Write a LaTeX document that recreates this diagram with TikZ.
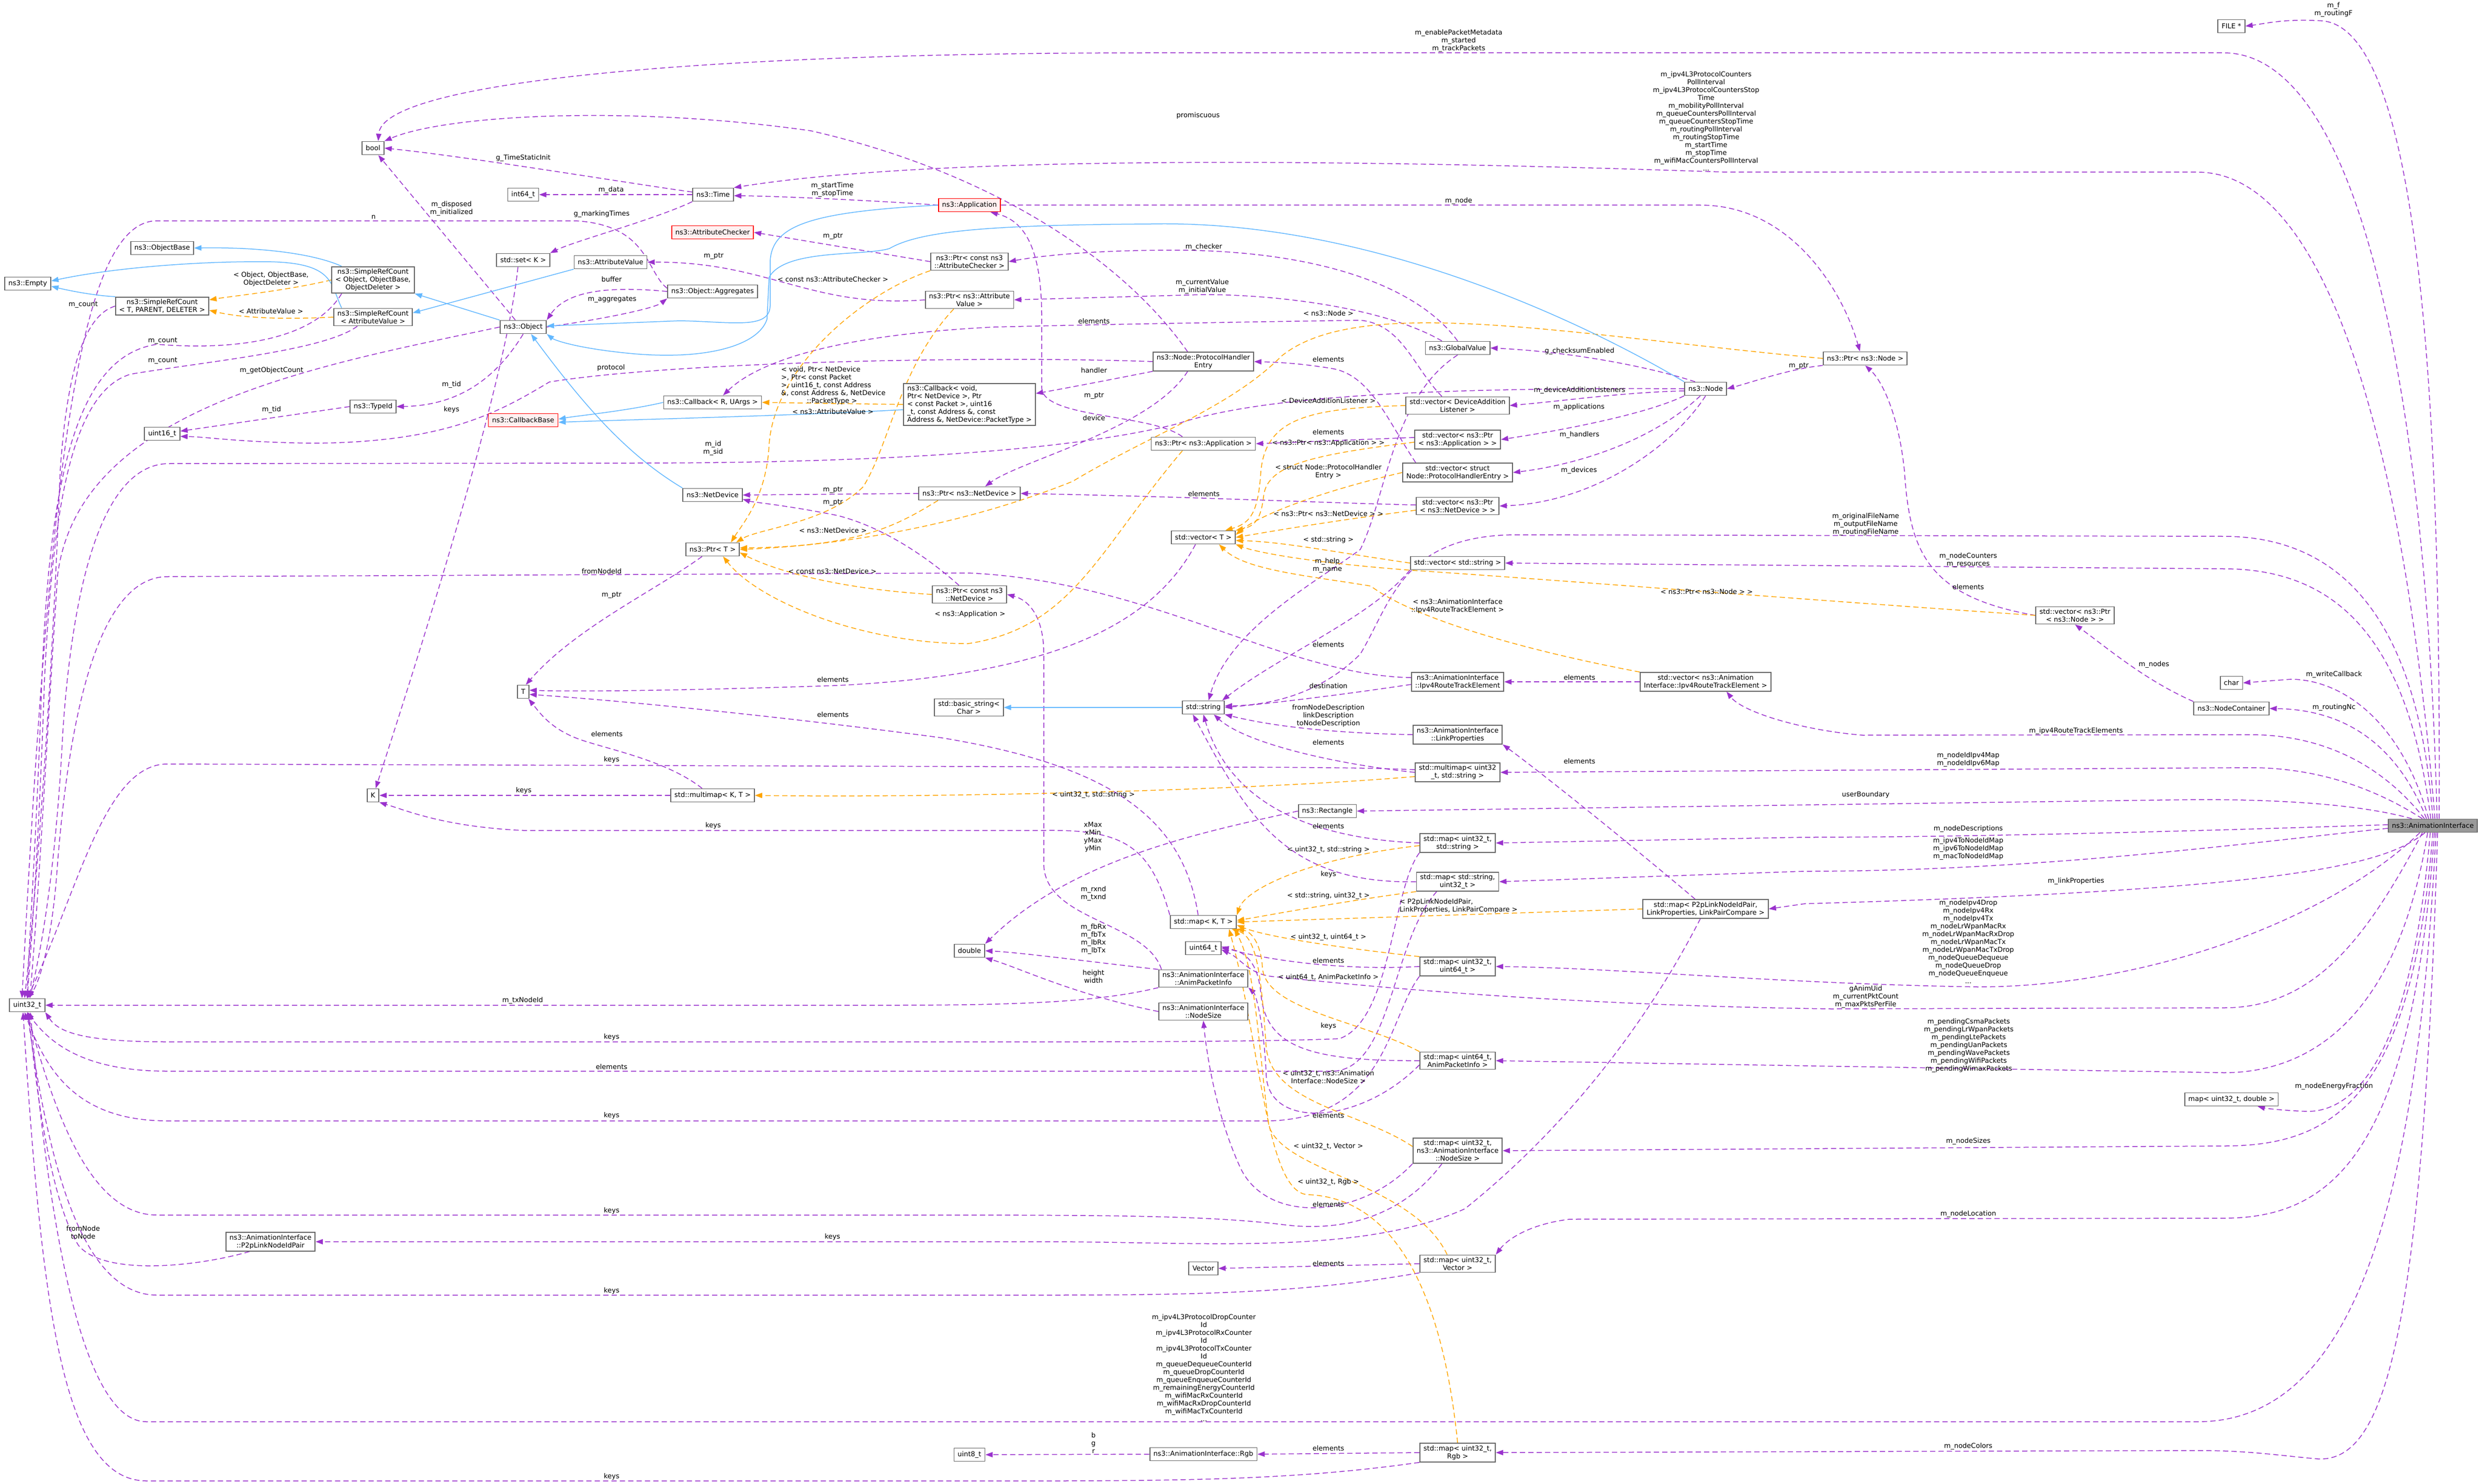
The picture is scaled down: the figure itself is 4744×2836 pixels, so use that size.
\documentclass[tikz,border=0pt]{standalone}
\usepackage{fontspec}
\setmainfont{DejaVu Sans}
\usetikzlibrary{arrows.meta}
\definecolor{usecol}{HTML}{9A32CD}
\definecolor{tmplcol}{HTML}{FFA500}
\definecolor{inhcol}{HTML}{63B8FF}
\definecolor{bordgray}{HTML}{666666}
\definecolor{aigray}{HTML}{999999}
\definecolor{redfill}{HTML}{FFF0F0}
\newcommand{\dxfont}{\fontsize{13}{15}\selectfont}
\pgfdeclarelayer{bg}
\pgfdeclarelayer{edges}
\pgfsetlayers{bg,edges,main}
\tikzset{
  cls/.style={draw=bordgray, line width=1.8pt, fill=white, font=\dxfont, align=center, inner xsep=7pt, inner ysep=4pt, minimum height=25pt},
  redcls/.style={cls, draw=red, fill=redfill},
  lbl/.style={font=\dxfont, align=center, inner sep=0pt},
  tip/.style={-{Triangle[length=14pt,width=10pt]}},
  use/.style={draw=usecol, line width=1.5pt, dash pattern=on 10pt off 6pt, tip},
  tmpl/.style={draw=tmplcol, line width=1.5pt, dash pattern=on 10pt off 6pt, tip},
  inh/.style={draw=inhcol, line width=1.5pt, tip}
}
\begin{document}
\begin{tikzpicture}[x=1pt,y=-1pt]
\useasboundingbox (0,0) rectangle (4744,2836);
\begin{pgfonlayer}{bg}
\fill[white] (0,0) rectangle (4744,2836);
\end{pgfonlayer}
% ---------------- nodes ----------------
\node[cls, fill=aigray] (AI) at (4650,1578) {ns3::AnimationInterface};
\node[cls] (FILE) at (4265,50) {FILE *};
\node[cls] (nbool) at (713,283) {bool};
\node[cls] (nint64) at (1000,372) {int64\_t};
\node[cls] (ntime) at (1363,372) {ns3::Time};
\node[redcls] (napp) at (1853,392) {ns3::Application};
\node[cls] (nobjbase) at (310,474) {ns3::ObjectBase};
\node[cls] (nempty) at (53,542) {ns3::Empty};
\node[cls] (srcT) at (310,585) {ns3::SimpleRefCount\\< T, PARENT, DELETER >};
\node[cls] (srcO) at (713,535) {ns3::SimpleRefCount\\< Object, ObjectBase,\\ObjectDeleter >};
\node[cls] (srcAV) at (713,606) {ns3::SimpleRefCount\\< AttributeValue >};
\node[cls] (nobject) at (1000,625) {ns3::Object};
\node[cls] (setK) at (1000,497) {std::set< K >};
\node[cls] (attrval) at (1167,501) {ns3::AttributeValue};
\node[cls] (typeid) at (713,777) {ns3::TypeId};
\node[cls] (u16) at (310,829) {uint16\_t};
\node[redcls] (cbbase) at (1000,803) {ns3::CallbackBase};
\node[redcls] (attrchk) at (1362,444) {ns3::AttributeChecker};
\node[cls] (aggr) at (1362,557) {ns3::Object::Aggregates};
\node[cls] (pcac) at (1853,500) {ns3::Ptr< const ns3\\::AttributeChecker >};
\node[cls] (pav) at (1853,573) {ns3::Ptr< ns3::Attribute\\Value >};
\node[cls] (phe) at (2300,691) {ns3::Node::ProtocolHandler\\Entry};
\node[cls] (cbR) at (1362,769) {ns3::Callback< R, UArgs >};
\node[cls, align=left] (cbV) at (1853,773) {ns3::Callback< void,\\ Ptr< NetDevice >, Ptr\\< const Packet >, uint16\\\_t, const Address \&, const\\ Address \&, NetDevice::PacketType >};
\node[cls] (papp) at (2300,848) {ns3::Ptr< ns3::Application >};
\node[cls] (netdev) at (1362,946) {ns3::NetDevice};
\node[cls] (pnd) at (1853,943) {ns3::Ptr< ns3::NetDevice >};
\node[cls] (vecT) at (2300,1027) {std::vector< T >};
\node[cls] (ptrT) at (1362,1050) {ns3::Ptr< T >};
\node[cls] (globval) at (2786,665) {ns3::GlobalValue};
\node[cls] (nnode) at (3260,743) {ns3::Node};
\node[cls] (pnode) at (3565,685) {ns3::Ptr< ns3::Node >};
\node[cls] (vdal) at (2786,775) {std::vector< DeviceAddition\\Listener >};
\node[cls] (vapp) at (2786,840) {std::vector< ns3::Ptr\\< ns3::Application > >};
\node[cls] (vphe) at (2786,903) {std::vector< struct\\ Node::ProtocolHandlerEntry >};
\node[cls] (vnd) at (2786,967) {std::vector< ns3::Ptr\\< ns3::NetDevice > >};
\node[cls] (vstr) at (2786,1076) {std::vector< std::string >};
\node[cls] (pcnd) at (1853,1136) {ns3::Ptr< const ns3\\::NetDevice >};
\node[cls] (bstr) at (1852,1352) {std::basic\_string<\\ Char >};
\node[cls] (nstr) at (2300,1352) {std::string};
\node[cls] (mmKT) at (1362,1520) {std::multimap< K, T >};
\node[cls] (mapKT) at (2300,1762) {std::map< K, T >};
\node[cls] (nT) at (1000,1322) {T};
\node[cls] (nK) at (713,1520) {K};
\node[cls] (u32) at (52,1921) {uint32\_t};
\node[cls] (p2p) at (517,2373) {ns3::AnimationInterface\\::P2pLinkNodeIdPair};
\node[cls] (irte) at (2786,1303) {ns3::AnimationInterface\\::Ipv4RouteTrackElement};
\node[cls] (virte) at (3260,1303) {std::vector< ns3::Animation\\Interface::Ipv4RouteTrackElement >};
\node[cls] (linkprop) at (2786,1404) {ns3::AnimationInterface\\::LinkProperties};
\node[cls] (mmus) at (2786,1476) {std::multimap< uint32\\\_t, std::string >};
\node[cls] (rect) at (2537,1550) {ns3::Rectangle};
\node[cls] (mus) at (2786,1611) {std::map< uint32\_t,\\ std::string >};
\node[cls] (msu) at (2786,1685) {std::map< std::string,\\ uint32\_t >};
\node[cls] (mp2p) at (3260,1737) {std::map< P2pLinkNodeIdPair,\\ LinkProperties, LinkPairCompare >};
\node[cls] (muu) at (2786,1847) {std::map< uint32\_t,\\ uint64\_t >};
\node[cls] (muapi) at (2786,2027) {std::map< uint64\_t,\\ AnimPacketInfo >};
\node[cls] (ndouble) at (1853,1817) {double};
\node[cls] (u64) at (2300,1812) {uint64\_t};
\node[cls] (api) at (2300,1870) {ns3::AnimationInterface\\::AnimPacketInfo};
\node[cls] (nsize) at (2300,1933) {ns3::AnimationInterface\\::NodeSize};
\node[cls] (mns) at (2786,2199) {std::map< uint32\_t,\\ ns3::AnimationInterface\\::NodeSize >};
\node[cls] (nvector) at (2300,2424) {Vector};
\node[cls] (mvec) at (2786,2415) {std::map< uint32\_t,\\ Vector >};
\node[cls] (u8) at (1853,2780) {uint8\_t};
\node[cls] (rgb) at (2300,2779) {ns3::AnimationInterface::Rgb};
\node[cls] (mrgb) at (2786,2776) {std::map< uint32\_t,\\ Rgb >};
\node[cls] (vpnode) at (3966,1176) {std::vector< ns3::Ptr\\< ns3::Node > >};
\node[cls] (nchar) at (4265,1305) {char};
\node[cls] (nc) at (4265,1354) {ns3::NodeContainer};
\node[cls] (mud) at (4265,2101) {map< uint32\_t, double >};
% ---------------- labels ----------------
\node[lbl] (l1) at (4460,19) {m\_f\\m\_routingF};
\node[lbl] (l2) at (2788,78) {m\_enablePacketMetadata\\m\_started\\m\_trackPackets};
\node[lbl] (l3) at (3261,232) {m\_ipv4L3ProtocolCounters\\PollInterval\\m\_ipv4L3ProtocolCountersStop\\Time\\m\_mobilityPollInterval\\m\_queueCountersPollInterval\\m\_queueCountersStopTime\\m\_routingPollInterval\\m\_routingStopTime\\m\_startTime\\m\_stopTime\\m\_wifiMacCountersPollInterval\\...};
\node[lbl] (l4) at (2788,384) {m\_node};
\node[lbl] (l5) at (2290,221) {promiscuous};
\node[lbl] (l6) at (1000,302) {g\_TimeStaticInit};
\node[lbl] (l7) at (1168,363) {m\_data};
\node[lbl] (l8) at (1150,409) {g\_markingTimes};
\node[lbl] (l9) at (863,399) {m\_disposed\\m\_initialized};
\node[lbl] (l10) at (714,415) {n};
\node[lbl] (l11) at (518,533) {< Object, ObjectBase,\\ObjectDeleter >};
\node[lbl] (l12) at (518,595) {< AttributeValue >};
\node[lbl] (l13) at (159,582) {m\_count};
\node[lbl] (l14) at (311,651) {m\_count};
\node[lbl] (l15) at (311,689) {m\_count};
\node[lbl] (l16) at (519,708) {m\_getObjectCount};
\node[lbl] (l17) at (863,735) {m\_tid};
\node[lbl] (l18) at (519,783) {m\_tid};
\node[lbl] (l19) at (863,783) {keys};
\node[lbl] (l20) at (1168,703) {protocol};
\node[lbl] (l21) at (1169,534) {buffer};
\node[lbl] (l22) at (1170,572) {m\_aggregates};
\node[lbl] (l23) at (1591,363) {m\_startTime\\m\_stopTime};
\node[lbl] (l24) at (1592,451) {m\_ptr};
\node[lbl] (l25) at (1364,489) {m\_ptr};
\node[lbl] (l26) at (1592,534) {< const ns3::AttributeChecker >};
\node[lbl] (l27) at (2301,472) {m\_checker};
\node[lbl] (l28) at (2298,548) {m\_currentValue\\m\_initialValue};
\node[lbl] (l29) at (2091,614) {elements};
\node[lbl, align=left, anchor=west] (l30) at (1493,737) {< void, Ptr< NetDevice\\>, Ptr< const Packet\\>, uint16\_t, const Address\\\&, const Address \&, NetDevice\\\hspace*{49pt}::PacketType >};
\node[lbl] (l31) at (1592,787) {< ns3::AttributeValue >};
\node[lbl] (l32) at (2091,708) {handler};
\node[lbl] (l33) at (2091,756) {m\_ptr};
\node[lbl] (l34) at (2091,799) {device};
\node[lbl] (l35) at (1363,857) {m\_id\\m\_sid};
\node[lbl] (l36) at (1592,936) {m\_ptr};
\node[lbl] (l37) at (1592,960) {m\_ptr};
\node[lbl] (l38) at (1592,1014) {< ns3::NetDevice >};
\node[lbl] (l39) at (1591,1092) {< const ns3::NetDevice >};
\node[lbl] (l40) at (1150,1092) {fromNodeId};
\node[lbl] (l41) at (1169,1137) {m\_ptr};
\node[lbl] (l42) at (1854,1174) {< ns3::Application >};
\node[lbl] (l43) at (1592,1299) {elements};
\node[lbl] (l44) at (1592,1366) {elements};
\node[lbl] (l45) at (1160,1403) {elements};
\node[lbl] (l46) at (1169,1452) {keys};
\node[lbl] (l47) at (1001,1511) {keys};
\node[lbl] (l48) at (2090,1519) {< uint32\_t, std::string >};
\node[lbl] (l49) at (1363,1578) {keys};
\node[lbl] (l50) at (2089,1600) {xMax\\xMin\\yMax\\yMin};
\node[lbl] (l51) at (2090,1708) {m\_rxnd\\m\_txnd};
\node[lbl] (l52) at (2090,1795) {m\_fbRx\\m\_fbTx\\m\_lbRx\\m\_lbTx};
\node[lbl] (l53) at (2090,1866) {height\\width};
\node[lbl] (l54) at (2539,599) {< ns3::Node >};
\node[lbl] (l55) at (2539,687) {elements};
\node[lbl] (l56) at (2539,766) {< DeviceAdditionListener >};
\node[lbl] (l57) at (2539,826) {elements};
\node[lbl] (l58) at (2539,847) {< ns3::Ptr< ns3::Application > >};
\node[lbl] (l59) at (2539,901) {< struct Node::ProtocolHandler\\Entry >};
\node[lbl] (l60) at (2301,944) {elements};
\node[lbl] (l61) at (2539,982) {< ns3::Ptr< ns3::NetDevice > >};
\node[lbl] (l62) at (2539,1032) {< std::string >};
\node[lbl] (l63) at (2537,1081) {m\_help\\m\_name};
\node[lbl] (l64) at (3262,1131) {< ns3::Ptr< ns3::Node > >};
\node[lbl] (l65) at (2786,1158) {< ns3::AnimationInterface\\::Ipv4RouteTrackElement >};
\node[lbl] (l66) at (3019,671) {g\_checksumEnabled};
\node[lbl] (l67) at (3019,746) {m\_deviceAdditionListeners};
\node[lbl] (l68) at (3018,778) {m\_applications};
\node[lbl] (l69) at (3019,831) {m\_handlers};
\node[lbl] (l70) at (3018,899) {m\_devices};
\node[lbl] (l71) at (3438,699) {m\_ptr};
\node[lbl] (l72) at (2539,1232) {elements};
\node[lbl] (l73) at (2539,1311) {destination};
\node[lbl] (l74) at (3019,1295) {elements};
\node[lbl] (l75) at (2539,1368) {fromNodeDescription\\linkDescription\\toNodeDescription};
\node[lbl] (l76) at (2539,1419) {elements};
\node[lbl] (l77) at (3019,1455) {elements};
\node[lbl] (l78) at (2539,1579) {elements};
\node[lbl] (l79) at (2539,1624) {< uint32\_t, std::string >};
\node[lbl] (l80) at (2539,1671) {keys};
\node[lbl] (l81) at (2539,1712) {< std::string, uint32\_t >};
\node[lbl, align=left, anchor=west] (l82) at (2675,1731) {< P2pLinkNodeIdPair,\\LinkProperties, LinkPairCompare >};
\node[lbl] (l83) at (2539,1791) {< uint32\_t, uint64\_t >};
\node[lbl] (l84) at (2539,1836) {elements};
\node[lbl] (l85) at (2539,1868) {< uint64\_t, AnimPacketInfo >};
\node[lbl] (l86) at (2539,1961) {keys};
\node[lbl] (l87) at (2539,2058) {< uint32\_t, ns3::Animation\\Interface::NodeSize >};
\node[lbl] (l88) at (2539,2132) {elements};
\node[lbl] (l89) at (2539,2191) {< uint32\_t, Vector >};
\node[lbl] (l90) at (2539,2259) {< uint32\_t, Rgb >};
\node[lbl] (l91) at (2539,2302) {elements};
\node[lbl] (l92) at (2539,2415) {elements};
\node[lbl] (l93) at (2301,2614) {m\_ipv4L3ProtocolDropCounter\\Id\\m\_ipv4L3ProtocolRxCounter\\Id\\m\_ipv4L3ProtocolTxCounter\\Id\\m\_queueDequeueCounterId\\m\_queueDropCounterId\\m\_queueEnqueueCounterId\\m\_remainingEnergyCounterId\\m\_wifiMacRxCounterId\\m\_wifiMacRxDropCounterId\\m\_wifiMacTxCounterId\\...};
\node[lbl] (l94) at (2090,2758) {b\\g\\r};
\node[lbl] (l95) at (2539,2768) {elements};
\node[lbl] (l96) at (999,1912) {m\_txNodeId};
\node[lbl] (l97) at (1169,1982) {keys};
\node[lbl] (l98) at (1169,2039) {elements};
\node[lbl] (l99) at (1169,2132) {keys};
\node[lbl] (l100) at (1169,2314) {keys};
\node[lbl] (l101) at (159,2355) {fromNode\\toNode};
\node[lbl] (l102) at (1591,2364) {keys};
\node[lbl] (l103) at (1169,2467) {keys};
\node[lbl] (l104) at (1169,2822) {keys};
\node[lbl] (l105) at (3566,1002) {m\_originalFileName\\m\_outputFileName\\m\_routingFileName};
\node[lbl] (l106) at (3762,1071) {m\_nodeCounters\\m\_resources};
\node[lbl] (l107) at (3762,1122) {elements};
\node[lbl] (l108) at (4117,1270) {m\_nodes};
\node[lbl] (l109) at (4461,1289) {m\_writeCallback};
\node[lbl] (l110) at (4461,1352) {m\_routingNc};
\node[lbl] (l111) at (3968,1397) {m\_ipv4RouteTrackElements};
\node[lbl] (l112) at (3762,1452) {m\_nodeIdIpv4Map\\m\_nodeIdIpv6Map};
\node[lbl] (l113) at (3566,1519) {userBoundary};
\node[lbl] (l114) at (3762,1584) {m\_nodeDescriptions};
\node[lbl] (l115) at (3762,1622) {m\_ipv4ToNodeIdMap\\m\_ipv6ToNodeIdMap\\m\_macToNodeIdMap};
\node[lbl] (l116) at (3968,1684) {m\_linkProperties};
\node[lbl] (l117) at (3762,1800) {m\_nodeIpv4Drop\\m\_nodeIpv4Rx\\m\_nodeIpv4Tx\\m\_nodeLrWpanMacRx\\m\_nodeLrWpanMacRxDrop\\m\_nodeLrWpanMacTx\\m\_nodeLrWpanMacTxDrop\\m\_nodeQueueDequeue\\m\_nodeQueueDrop\\m\_nodeQueueEnqueue\\...};
\node[lbl] (l118) at (3566,1905) {gAnimUid\\m\_currentPktCount\\m\_maxPktsPerFile};
\node[lbl] (l119) at (3763,1998) {m\_pendingCsmaPackets\\m\_pendingLrWpanPackets\\m\_pendingLtePackets\\m\_pendingUanPackets\\m\_pendingWavePackets\\m\_pendingWifiPackets\\m\_pendingWimaxPackets};
\node[lbl] (l120) at (4461,2076) {m\_nodeEnergyFraction};
\node[lbl] (l121) at (3762,2181) {m\_nodeSizes};
\node[lbl] (l122) at (3762,2320) {m\_nodeLocation};
\node[lbl] (l123) at (3762,2764) {m\_nodeColors};
% ---------------- edges ----------------
\begin{pgfonlayer}{edges}
% from AnimationInterface
\draw[use] ([xshift=12pt]AI.north) .. controls (4665,900) and (4640,60) .. (4440,40) .. controls (4370,35) and (4330,45) .. (FILE.east);
\draw[use] ([xshift=8pt]AI.north) .. controls (4640,800) and (4520,101) .. (4250,101) -- (2200,101) .. controls (1300,101) and (730,160) .. ([xshift=10pt]nbool.north);
\draw[use] ([xshift=4pt]AI.north) .. controls (4600,900) and (4460,329) .. (4200,329) -- (3300,329) .. controls (2600,305) and (1800,295) .. (ntime.north east);
\draw[use] (AI.north) .. controls (4620,1150) and (4450,1025) .. (4250,1025) -- (2900,1022) .. controls (2680,1022) and (2660,1150) .. (2600,1250) .. controls (2520,1330) and (2420,1348) .. ([yshift=3pt]nstr.east);
\draw[use] ([xshift=-4pt]AI.north) .. controls (4600,1200) and (4450,1087) .. (4250,1087) -- (vstr.east);
\draw[use] ([xshift=-8pt]AI.north) .. controls (4590,1380) and (4480,1300) .. (4380,1298) -- (nchar.east);
\draw[use] ([xshift=-12pt]AI.north) .. controls (4580,1420) and (4480,1356) .. (nc.east);
\draw[use] ([xshift=-16pt]AI.north) .. controls (4560,1470) and (4450,1404) .. (4300,1404) -- (3560,1405) .. controls (3440,1395) and (3330,1360) .. ([xshift=40pt]virte.south);
\draw[use] ([xshift=-20pt]AI.north) .. controls (4560,1520) and (4450,1467) .. (4300,1467) -- (mmus.east);
\draw[use] ([xshift=-40pt]AI.north) .. controls (4540,1545) and (4420,1528) .. (4200,1528) -- (rect.east);
\draw[use] ([yshift=2pt]AI.west) .. controls (4300,1585) and (3800,1600) .. (3450,1600) -- (mus.east);
\draw[use] ([yshift=-5pt]AI.west) .. controls (4300,1610) and (3900,1665) .. (3450,1665) -- (msu.east);
\draw[use] ([xshift=-15pt]AI.south) .. controls (4560,1650) and (4400,1700) .. (3450,1727) -- (mp2p.east);
\draw[use] ([xshift=-25pt]AI.south) .. controls (4450,1760) and (4100,1886) .. (3780,1886) .. controls (3400,1880) and (3100,1850) .. (muu.east);
\draw[use] ([xshift=-20pt]AI.south) .. controls (4520,1800) and (4420,1926) .. (4250,1926) -- (3500,1928) .. controls (2900,1920) and (2500,1872) .. (2430,1866) .. controls (2385,1860) and (2370,1830) .. ([yshift=-3pt]u64.east);
\draw[use] ([xshift=-10pt]AI.south) .. controls (4590,1900) and (4450,2050) .. (4250,2050) -- (muapi.east);
\draw[use] ([xshift=-5pt]AI.south) .. controls (4610,2000) and (4510,2124) .. (4410,2124) .. controls (4360,2122) and (4330,2118) .. ([xshift=50pt]mud.south);
\draw[use] (AI.south) .. controls (4610,2100) and (4460,2190) .. (4250,2190) -- (mns.east);
\draw[use] ([xshift=3pt]AI.south) .. controls (4610,2200) and (4460,2328) .. (4250,2328) -- (3000,2330) .. controls (2920,2340) and (2880,2370) .. (mvec.north east);
\draw[use] ([xshift=6pt]AI.south) .. controls (4620,2300) and (4500,2717) .. (4200,2717) -- (280,2717) .. controls (150,2717) and (90,2300) .. ([xshift=6pt]u32.south);
\draw[use] ([xshift=9pt]AI.south) .. controls (4630,2550) and (4560,2795) .. (4430,2788) .. controls (4360,2782) and (4300,2772) .. (4200,2772) -- (mrgb.east);
% Time, Object, etc.
\draw[use] ([yshift=5pt]ntime.west) .. controls (1200,350) and (900,300) .. (nbool.east);
\draw[use] (ntime.west) -- (nint64.east);
\draw[use] (ntime.south west) .. controls (1250,420) and (1100,460) .. (setK.north east);
\draw[use] ([xshift=-15pt]nobject.north) -- ([xshift=10pt]nbool.south);
\draw[use] ([yshift=6pt]aggr.west) .. controls (1235,520) and (1240,430) .. (1100,422) -- (300,422) .. controls (150,422) and (95,900) .. ([xshift=-10pt]u32.north);
\draw[use] (aggr.west) .. controls (1150,545) and (1080,560) .. (nobject.north east);
\draw[use] (nobject.east) .. controls (1150,610) and (1250,590) .. (aggr.south west);
\draw[use] (nobject.south) .. controls (950,720) and (880,775) .. (typeid.east);
\draw[use] (typeid.west) -- ([yshift=5pt]u16.east);
\draw[use] (nobject.west) .. controls (600,700) and (150,780) .. (110,1100) .. controls (90,1400) and (75,1700) .. ([xshift=5pt]u32.north);
\draw[use] (srcT.west) .. controls (170,600) and (130,680) .. (115,900) .. controls (100,1300) and (70,1700) .. ([xshift=-5pt]u32.north);
\draw[use] ([xshift=-60pt]srcO.south) .. controls (600,650) and (450,670) .. (300,658) .. controls (150,680) and (95,900) .. (80,1300) .. controls (70,1600) and (55,1800) .. (u32.north);
\draw[use] ([xshift=-30pt]srcAV.south) .. controls (620,670) and (400,690) .. (250,715) .. controls (130,750) and (100,1000) .. (85,1300) .. controls (75,1600) and (60,1800) .. (u32.north);
\draw[use] (nnode.west) .. controls (2700,740) and (2400,760) .. (2250,810) .. controls (2050,860) and (1700,885) .. (1200,885) -- (320,886) .. controls (200,890) and (140,1100) .. (120,1400) .. controls (105,1700) and (70,1850) .. ([xshift=5pt]u32.north);
\draw[use] (phe.west) .. controls (1900,680) and (1300,690) .. (1050,730) .. controls (950,790) and (850,845) .. (600,847) .. controls (450,845) and (400,835) .. ([yshift=-5pt]u16.east);
\draw[use] (pcac.west) -- (attrchk.east);
\draw[use] (pav.west) .. controls (1550,590) and (1470,500) .. (attrval.east);
\draw[use] (globval.north) .. controls (2720,560) and (2550,480) .. (2250,478) .. controls (2100,478) and (2000,487) .. (pcac.east);
\draw[use] ([xshift=-30pt]globval.north) .. controls (2650,590) and (2450,563) .. (2300,563) -- (pav.east);
\draw[use] (globval.south) .. controls (2660,760) and (2650,950) .. (2600,1050) .. controls (2520,1110) and (2350,1200) .. ([xshift=10pt]nstr.north);
\draw[use] ([xshift=-20pt]nnode.north) .. controls (3150,700) and (3000,672) .. (globval.east);
\draw[use] ([yshift=-4pt]nnode.west) .. controls (3100,750) and (3000,765) .. (vdal.east);
\draw[use] (nnode.south west) .. controls (3150,790) and (3000,820) .. (vapp.east);
\draw[use] ([xshift=-10pt]nnode.south) .. controls (3150,850) and (3000,890) .. (vphe.east);
\draw[use] (nnode.south) .. controls (3200,850) and (3050,960) .. (vnd.east);
\draw[use] (pnode.south west) .. controls (3420,705) and (3350,730) .. (nnode.east);
\draw[use] (vpnode.west) .. controls (3680,1140) and (3650,1050) .. (3640,900) .. controls (3630,800) and (3600,730) .. (pnode.south);
\draw[use] (nc.north west) .. controls (4100,1300) and (4030,1240) .. (vpnode.south);
\draw[use] (napp.east) -- (3250,392) .. controls (3420,392) and (3520,550) .. ([xshift=-10pt]pnode.north);
\draw[use] (napp.west) .. controls (1700,385) and (1500,375) .. ([yshift=-2pt]ntime.east);
\draw[use] ([xshift=-30pt]phe.north) .. controls (2150,500) and (1900,330) .. (1550,250) .. controls (1200,200) and (850,220) .. (nbool.north east);
% second layer
\draw[use] ([yshift=-5pt]irte.west) .. controls (2550,1330) and (2420,1345) .. (nstr.east);
\draw[use] ([yshift=8pt]irte.west) .. controls (2450,1290) and (2200,1110) .. (1850,1095) -- (320,1102) .. controls (180,1102) and (130,1400) .. (110,1650) .. controls (100,1800) and (75,1880) .. (u32.north);
\draw[use] (virte.west) -- (irte.east);
\draw[use] (vstr.south west) .. controls (2620,1180) and (2450,1250) .. ([xshift=-5pt]nstr.north east);
\draw[use] (linkprop.west) .. controls (2500,1400) and (2400,1380) .. (nstr.south east);
\draw[use] (mmus.west) .. controls (2550,1460) and (2380,1420) .. ([xshift=20pt]nstr.south);
\draw[use] ([yshift=5pt]mmus.west) .. controls (2600,1466) and (2400,1466) .. (2200,1466) -- (320,1460) .. controls (200,1460) and (150,1700) .. (u32.north);
\draw[use] (rect.west) .. controls (2300,1590) and (2050,1640) .. (ndouble.north east);
\draw[use] (mus.west) .. controls (2450,1600) and (2340,1500) .. (nstr.south);
\draw[use] (mus.south west) .. controls (2660,1700) and (2660,1950) .. (2560,1985) .. controls (2400,1992) and (2000,1991) .. (1800,1991) -- (320,1991) .. controls (150,1991) and (110,1970) .. (u32.south east);
\draw[use] (msu.west) .. controls (2450,1690) and (2380,1550) .. ([xshift=-20pt]nstr.south);
\draw[use] ([xshift=-40pt]msu.south) .. controls (2660,1800) and (2660,2040) .. (2550,2047) -- (320,2047) .. controls (170,2047) and (100,2000) .. (u32.south);
\draw[use] ([xshift=-20pt]mp2p.north) .. controls (3100,1600) and (2950,1480) .. (linkprop.south east);
\draw[use] ([xshift=-10pt]mp2p.south) .. controls (3150,1950) and (3000,2150) .. (2800,2310) .. controls (2600,2400) and (2300,2373) .. (2000,2373) -- (p2p.east);
\draw[use] (muu.west) .. controls (2550,1856) and (2400,1830) .. ([yshift=3pt]u64.east);
\draw[use] (muu.south west) .. controls (2650,1950) and (2650,2150) .. (2400,2142) -- (320,2142) .. controls (150,2142) and (90,2050) .. ([xshift=-5pt]u32.south);
\draw[use] ([yshift=-8pt]muapi.west) .. controls (2600,2150) and (2420,2160) .. (2420,2050) .. controls (2415,1950) and (2400,1900) .. (api.south east);
\draw[use] (muapi.west) .. controls (2500,2028) and (2420,2000) .. (2410,1900) .. controls (2405,1840) and (2380,1817) .. (u64.east);
\draw[use] (mns.south west) .. controls (2600,2330) and (2420,2340) .. (2370,2230) .. controls (2320,2120) and (2305,2000) .. (nsize.south);
\draw[use] ([xshift=-30pt]mns.south) .. controls (2700,2300) and (2600,2360) .. (2450,2340) .. controls (2300,2322) and (2100,2322) .. (1700,2322) -- (300,2322) .. controls (180,2322) and (110,2150) .. (u32.south);
\draw[use] (mvec.west) -- (nvector.east);
\draw[use] (mvec.south west) .. controls (2500,2470) and (2300,2475) .. (2000,2475) -- (300,2475) .. controls (150,2475) and (90,2200) .. (u32.south);
\draw[use] (mrgb.west) -- (rgb.east);
\draw[use] (mrgb.south west) .. controls (2500,2825) and (2300,2830) .. (2000,2830) -- (280,2830) .. controls (120,2830) and (80,2500) .. ([xshift=-8pt]u32.south);
\draw[use] (rgb.west) -- (u8.east);
\draw[use] (api.north west) .. controls (2100,1840) and (1950,1820) .. (ndouble.east);
\draw[use] (nsize.west) .. controls (2050,1900) and (1950,1850) .. (ndouble.south east);
\draw[use] ([xshift=-80pt]api.north) .. controls (2190,1760) and (1995,1760) .. (1995,1650) -- (1995,1250) .. controls (1995,1170) and (1960,1145) .. (pcnd.east);
\draw[use] (api.south west) .. controls (2100,1915) and (1950,1921) .. (1700,1921) -- (u32.east);
\draw[use] ([xshift=-40pt]p2p.south) .. controls (380,2420) and (200,2440) .. (150,2380) .. controls (100,2300) and (70,2100) .. ([xshift=3pt]u32.south);
% middle
\draw[use] ([xshift=-40pt]papp.north) .. controls (2200,790) and (1991,800) .. (1991,740) -- (1991,600) .. controls (1990,460) and (1950,420) .. ([xshift=40pt]napp.south);
\draw[use] (phe.south west) .. controls (2100,730) and (2020,745) .. ([yshift=21pt]cbV.east);
\draw[use] ([xshift=-30pt]phe.south) .. controls (2200,820) and (1950,880) .. ([xshift=30pt]pnd.north);
\draw[use] ([xshift=-80pt]vphe.north) .. controls (2650,800) and (2620,720) .. (2550,705) .. controls (2480,693) and (2430,692) .. (phe.east);
\draw[use] ([yshift=4pt]vapp.west) -- (papp.east);
\draw[use] ([yshift=2pt]vnd.west) .. controls (2500,960) and (2300,950) .. (pnd.east);
\draw[use] ([xshift=-30pt]vdal.north) .. controls (2700,700) and (2680,620) .. (2600,612) .. controls (2400,615) and (2100,620) .. (1900,625) .. controls (1600,640) and (1450,690) .. ([xshift=20pt]cbR.north);
\draw[use] (pnd.west) -- (netdev.east);
\draw[use] ([xshift=-20pt]pcnd.north) .. controls (1790,1080) and (1700,1010) .. (1600,985) .. controls (1500,965) and (1440,960) .. ([yshift=-8pt]netdev.east);
\draw[use] ([xshift=-20pt]ptrT.south) .. controls (1250,1130) and (1100,1200) .. ([xshift=5pt]nT.north);
\draw[use] ([xshift=-15pt]vecT.south) .. controls (2200,1200) and (2000,1290) .. (1600,1310) .. controls (1300,1320) and (1100,1322) .. ([yshift=3pt]nT.east);
\draw[use] ([xshift=-10pt]mapKT.north) .. controls (2260,1550) and (2100,1460) .. (1800,1410) .. controls (1500,1370) and (1200,1340) .. ([yshift=-5pt]nT.east);
\draw[use] ([xshift=-20pt]mmKT.north) .. controls (1270,1450) and (1150,1430) .. (1100,1410) .. controls (1050,1390) and (1030,1360) .. ([xshift=10pt]nT.south);
\draw[use] (mmKT.west) -- (nK.east);
\draw[use] (mapKT.north west) .. controls (2200,1620) and (2150,1585) .. (2000,1587) -- (1000,1587) .. controls (850,1580) and (780,1550) .. (nK.south east);
\draw[use] ([xshift=-10pt]setK.south) .. controls (970,700) and (850,1100) .. ([xshift=5pt]nK.north);
% template (orange)
\draw[tmpl] (srcO.west) .. controls (550,555) and (450,565) .. ([yshift=12pt]srcT.east);
\draw[tmpl] (srcAV.west) .. controls (520,612) and (450,605) .. ([yshift=-8pt]srcT.east);
\draw[tmpl] (pcac.south west) .. controls (1650,560) and (1480,700) .. (1470,850) .. controls (1465,950) and (1420,1000) .. ([xshift=35pt]ptrT.north);
\draw[tmpl] ([xshift=-30pt]pav.south) .. controls (1720,700) and (1700,850) .. (1650,930) .. controls (1580,1000) and (1450,1010) .. ([xshift=45pt]ptrT.north);
\draw[tmpl] (cbV.west) -- (cbR.east);
\draw[tmpl] ([xshift=-60pt]pnd.south) .. controls (1720,1000) and (1650,1045) .. ([yshift=3pt]ptrT.east);
\draw[tmpl] (pcnd.west) .. controls (1600,1125) and (1480,1090) .. ([yshift=-6pt]ptrT.east);
\draw[tmpl] ([xshift=-40pt]papp.south) .. controls (2100,1050) and (2050,1200) .. (1850,1230) .. controls (1650,1230) and (1450,1150) .. ([xshift=20pt]ptrT.south);
\draw[tmpl] (pnode.west) .. controls (3000,640) and (2600,560) .. (2450,680) .. controls (2350,780) and (2200,830) .. (2050,920) .. controls (1800,1020) and (1550,1045) .. (ptrT.east);
\draw[tmpl] (vdal.west) .. controls (2500,780) and (2420,800) .. (2410,900) .. controls (2405,980) and (2390,1000) .. ([xshift=-20pt]vecT.north east);
\draw[tmpl] ([yshift=-5pt]vapp.west) .. controls (2500,870) and (2420,890) .. (2415,950) .. controls (2410,990) and (2400,1005) .. (vecT.north east);
\draw[tmpl] (vphe.west) .. controls (2500,945) and (2400,990) .. ([yshift=5pt]vecT.east);
\draw[tmpl] ([yshift=-8pt]vnd.west) .. controls (2550,995) and (2450,1012) .. (vecT.east);
\draw[tmpl] (vstr.west) .. controls (2550,1055) and (2450,1035) .. ([yshift=-6pt]vecT.east);
\draw[tmpl] (vpnode.west) .. controls (3500,1150) and (3000,1110) .. (2700,1090) .. controls (2500,1075) and (2400,1055) .. (vecT.south east);
\draw[tmpl] (virte.north west) .. controls (2900,1240) and (2700,1180) .. (2620,1120) .. controls (2500,1100) and (2380,1090) .. ([xshift=30pt]vecT.south);
\draw[tmpl] ([yshift=-8pt]mmus.west) .. controls (2400,1510) and (1800,1525) .. (mmKT.east);
\draw[tmpl] ([yshift=-5pt]mus.west) .. controls (2500,1640) and (2380,1700) .. (mapKT.north east);
\draw[tmpl] (msu.south west) .. controls (2550,1725) and (2420,1750) .. ([yshift=3pt]mapKT.east);
\draw[tmpl] (mp2p.west) -- (mapKT.east);
\draw[tmpl] (muu.north west) .. controls (2550,1810) and (2420,1790) .. ([yshift=-6pt]mapKT.east);
\draw[tmpl] (muapi.north west) .. controls (2600,1950) and (2420,1930) .. (2413,1850) .. controls (2410,1800) and (2390,1780) .. (mapKT.south east);
\draw[tmpl] ([yshift=8pt]mns.west) .. controls (2600,2124) and (2430,2110) .. (2420,2000) .. controls (2410,1850) and (2400,1790) .. ([xshift=-10pt]mapKT.south east);
\draw[tmpl] ([xshift=-20pt]mvec.north) .. controls (2700,2260) and (2450,2240) .. (2425,2150) .. controls (2405,2000) and (2400,1850) .. ([xshift=-5pt]mapKT.south east);
\draw[tmpl] (mrgb.north) .. controls (2760,2500) and (2680,2290) .. (2500,2283) .. controls (2420,2280) and (2410,2000) .. ([xshift=-15pt]mapKT.south east);
% inheritance (blue)
\draw[inh] (srcT.north west) .. controls (180,565) and (130,555) .. ([yshift=-5pt]nempty.east);
\draw[inh] ([xshift=-60pt]srcO.north) .. controls (600,485) and (500,472) .. (nobjbase.east);
\draw[inh] ([xshift=-60pt]srcAV.north) .. controls (630,540) and (640,500) .. (500,500) .. controls (350,500) and (200,515) .. ([yshift=5pt]nempty.east);
\draw[inh] (nobject.north west) -- (srcO.south east);
\draw[inh] (attrval.south west) -- ([yshift=8pt]srcAV.east);
\draw[inh] (napp.west) .. controls (1550,405) and (1475,430) .. (1472,500) -- (1472,585) .. controls (1470,630) and (1400,615) .. (1300,613) -- ([yshift=2pt]nobject.east);
\draw[inh] (nnode.north west) .. controls (3000,600) and (2600,420) .. (2200,428) .. controls (1900,430) and (1760,440) .. (1700,475) .. controls (1650,490) and (1500,475) .. (1470,530) -- (1466,610) .. controls (1450,660) and (1350,690) .. (1200,675) .. controls (1100,665) and (1060,650) .. (nobject.south east);
\draw[inh] (netdev.north west) .. controls (1200,870) and (1120,780) .. ([xshift=15pt]nobject.south);
\draw[inh] (cbR.west) .. controls (1200,785) and (1100,795) .. ([yshift=2pt]cbbase.east);
\draw[inh] ([yshift=-10pt]cbV.west) .. controls (1500,795) and (1200,802) .. ([yshift=-4pt]cbbase.east);
\draw[inh] (nstr.west) -- (bstr.east);
\end{pgfonlayer}
\end{tikzpicture}
\end{document}
